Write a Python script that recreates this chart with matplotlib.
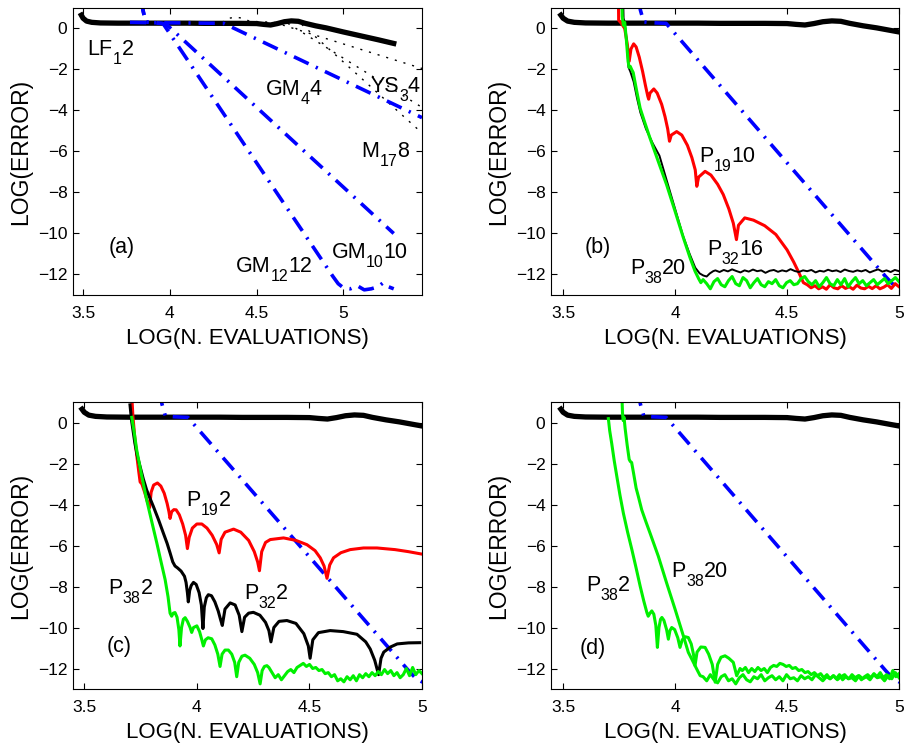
import numpy as np
import matplotlib
matplotlib.use("Agg")
import matplotlib.pyplot as plt
from matplotlib.transforms import offset_copy


plt.rcParams["font.family"] = ["Liberation Sans", "DejaVu Sans"]

X_TICKS = [3.5, 4, 4.5, 5]
X_TICK_LABELS = ["3.5", "4", "4.5", "5"]
Y_TICKS = [0, -2, -4, -6, -8, -10, -12]
Y_TICK_LABELS = ["0", "\u22122", "\u22124", "\u22126", "\u22128", "\u221210", "\u221212"]

# LF_1 2 (thick black, same in every panel)
LF_X = [3.49, 3.50, 3.52, 3.55, 3.60, 3.70, 3.80, 3.90, 4.00, 4.10, 4.20, 4.30, 4.40,
        4.50, 4.54, 4.58, 4.62, 4.66, 4.70, 4.74, 4.78, 4.84, 4.90, 5.00, 5.10, 5.20, 5.29]
LF_Y = [0.65, 0.50, 0.36, 0.30, 0.27, 0.26, 0.26, 0.26, 0.26, 0.26, 0.25, 0.25, 0.25,
        0.24, 0.20, 0.17, 0.24, 0.33, 0.37, 0.35, 0.25, 0.13, 0.03, -0.17, -0.36, -0.55, -0.73]

# GM methods (blue dash-dot)
GM12_X = [3.835, 3.845, 3.86, 3.90, 3.96, 4.94, 4.97, 5.00, 5.04, 5.08, 5.12, 5.16,
          5.20, 5.23, 5.26, 5.29]
GM12_Y = [1.6, 0.9, 0.32, 0.28, 0.25, -12.1, -12.45, -12.65, -12.7, -12.55, -12.75, -12.7,
          -12.6, -12.4, -12.6, -12.7]
GM10_X = [3.835, 3.845, 3.86, 3.92, 3.98, 5.29]
GM10_Y = [1.6, 0.9, 0.32, 0.28, 0.2, -10.0]
GM4_X = [3.77, 3.90, 4.10, 4.31, 5.453]
GM4_Y = [0.3, 0.28, 0.27, 0.25, -4.35]

# YS_3 4 and M_17 8 (black dotted)
YS_X = [4.30, 4.34, 4.38, 4.42, 4.46, 4.60, 5.453]
YS_Y = [0.30, 0.50, 0.55, 0.50, 0.35, 0.30, -1.95]
M17A_X = [4.68, 5.453]
M17A_Y = [0.25, -3.85]
M17B_X = [4.76, 5.453]
M17B_Y = [0.2, -5.1]

# panel (b)
P19_10_X = [3.747, 3.748, 3.760, 3.775, 3.787, 3.795, 3.803, 3.815, 3.826, 3.840, 3.855,
            3.868, 3.878, 3.882, 3.888, 3.905, 3.920, 3.940, 3.955, 3.967, 3.975, 3.983,
            4.007, 4.030, 4.055, 4.075, 4.090, 4.097, 4.105, 4.134, 4.160, 4.190, 4.215,
            4.240, 4.260, 4.274, 4.283, 4.311, 4.350, 4.400, 4.450, 4.500, 4.530, 4.550,
            4.573]
P19_10_Y = [1.5, 0.4, 0.25, 0.0, -0.8, -1.6, -1.0, -0.75, -0.9, -1.4, -2.1,
            -2.8, -3.3, -3.45, -3.15, -2.95, -3.15, -3.7, -4.3, -4.9, -5.5, -5.2,
            -5.03, -5.2, -5.7, -6.3, -6.9, -7.7, -7.25, -6.97, -7.15, -7.6, -8.1,
            -8.8, -9.5, -10.3, -9.6, -9.24, -9.35, -9.62, -10.05, -10.8, -11.4, -11.85,
            -12.4]
P19_10_TAIL = [-12.5, -12.65, -12.55, -12.7, -12.6, -12.72, -12.5, -12.65, -12.7, -12.55,
               -12.68, -12.6, -12.72, -12.52, -12.66, -12.7, -12.58, -12.69, -12.55, -12.7,
               -12.62, -12.5, -12.68, -12.45, -12.6]

P32_16_X = [3.768, 3.770, 3.775, 3.785, 3.792, 3.800, 3.815, 3.830, 3.845, 3.870, 3.900,
            3.930, 3.965, 4.000, 4.035, 4.065, 4.090, 4.110, 4.126, 4.141, 4.155, 4.170]
P32_16_Y = [1.5, 0.5, 0.3, -0.8, -1.9, -2.1, -2.6, -3.4, -4.1, -4.9, -5.6,
            -6.2, -7.5, -8.8, -10.1, -11.0, -11.67, -11.95, -12.05, -12.1, -11.95, -11.84]
P32_16_TAIL = [-11.8, -11.88, -11.78, -11.85, -11.75, -11.83, -11.9, -11.8, -11.86, -11.76,
               -11.84, -11.8, -11.92, -11.82, -11.78, -11.87, -11.8, -11.85, -11.74, -11.83,
               -11.88, -11.8, -11.84, -11.78, -11.9, -11.82, -11.86, -11.77, -11.84, -11.8,
               -11.88, -11.76, -11.83, -11.87, -11.8, -11.85, -11.78, -11.9, -11.82, -11.75,
               -11.86, -11.8, -11.88, -11.78, -11.84]

P38_20_X = [3.762, 3.764, 3.769, 3.775, 3.782, 3.790, 3.795, 3.800, 3.806, 3.813, 3.829,
            3.844, 3.865, 3.888, 3.925, 3.962, 4.000, 4.037, 4.067, 4.089, 4.105, 4.115]
P38_20_Y = [1.5, 0.6, 0.16, 0.3, -0.5, -1.6, -1.9, -1.85, -2.0, -2.15, -3.08,
            -3.89, -4.6, -5.35, -6.49, -7.62, -8.92, -10.21, -11.19, -11.84, -12.2, -12.4]
P38_20_TAIL = [-12.25, -12.45, -12.7, -12.35, -12.2, -12.5, -12.6, -12.3, -12.1, -12.45,
               -12.55, -12.15, -12.3, -12.65, -12.4, -12.2, -12.5, -12.6, -12.35, -12.45,
               -12.25, -12.55, -12.65, -12.4, -12.3, -12.5, -12.45, -12.2, -12.1, -12.35,
               -12.5, -12.3, -12.6, -12.4, -12.15, -12.45, -12.55, -12.25, -12.5, -12.2,
               -12.6, -12.35, -12.15, -12.45, -12.3, -12.55, -12.4, -12.25, -12.5, -12.35,
               -12.2, -12.45, -12.3, -12.15, -12.35]

# panel (c)
P19_2_X = [3.711, 3.716, 3.724, 3.733, 3.742, 3.748, 3.756, 3.768, 3.780, 3.790, 3.797,
           3.808, 3.825, 3.840, 3.855, 3.868, 3.876, 3.881, 3.888, 3.898, 3.908, 3.922,
           3.937, 3.950, 3.958, 3.966, 3.980, 4.000, 4.022, 4.045, 4.068, 4.088, 4.099,
           4.108, 4.125, 4.163, 4.195, 4.230, 4.255, 4.270, 4.278, 4.288, 4.305, 4.326,
           4.385, 4.440, 4.489, 4.525, 4.548, 4.565, 4.578, 4.590, 4.607, 4.640, 4.681,
           4.740, 4.800, 4.880, 4.940, 5.0]
P19_2_Y = [1.3, 0.3, -0.7, -1.6, -2.4, -2.9, -3.0, -3.4, -3.85, -4.15, -3.4,
           -3.05, -2.95, -3.1, -3.45, -3.95, -4.35, -4.68, -4.35, -4.25, -4.26, -4.5,
           -4.95, -5.5, -6.15, -5.6, -5.15, -4.95, -4.95, -5.15, -5.5, -5.95, -6.36,
           -5.7, -5.35, -5.2, -5.35, -5.75, -6.3, -6.8, -7.23, -6.3, -5.85, -5.71,
           -5.63, -5.75, -5.96, -6.25, -6.6, -7.0, -7.6, -6.95, -6.6, -6.35, -6.2,
           -6.12, -6.12, -6.2, -6.3, -6.42]

P32_2_X = [3.703, 3.710, 3.718, 3.725, 3.735, 3.748, 3.762, 3.777, 3.792, 3.807, 3.830,
           3.851, 3.868, 3.881, 3.893, 3.903, 3.915, 3.930, 3.945, 3.952, 3.958, 3.962,
           3.968, 3.975, 3.985, 3.997, 4.010, 4.020, 4.027, 4.033, 4.042, 4.051, 4.065,
           4.080, 4.095, 4.105, 4.113, 4.125, 4.148, 4.170, 4.188, 4.200, 4.212, 4.230,
           4.251, 4.280, 4.305, 4.320, 4.329, 4.342, 4.365, 4.400, 4.440, 4.475, 4.495,
           4.503, 4.515, 4.540, 4.592, 4.650, 4.711, 4.750, 4.770, 4.790, 4.807, 4.818,
           4.830, 4.860, 4.890, 4.940, 4.99]
P32_2_Y = [0.86, 0.1, -0.5, -1.02, -1.6, -2.16, -2.75, -3.29, -3.7, -4.1, -4.75,
           -5.39, -5.9, -6.36, -6.8, -7.0, -7.1, -7.25, -7.5, -7.8, -8.3, -8.75,
           -8.2, -7.95, -7.8, -7.9, -8.3, -8.9, -10.05, -9.0, -8.55, -8.4, -8.45,
           -8.75, -9.2, -9.6, -9.9, -9.1, -8.8, -8.9, -9.4, -10.2, -9.5, -9.3,
           -9.26, -9.4, -9.75, -10.15, -10.7, -10.0, -9.7, -9.66, -9.8, -10.3, -10.9,
           -11.5, -10.6, -10.25, -10.15, -10.2, -10.33, -10.7, -11.05, -11.6, -12.3, -11.5,
           -11.2, -10.95, -10.8, -10.75, -10.74]

P38_2C_X = [3.711, 3.722, 3.733, 3.755, 3.777, 3.800, 3.822, 3.840, 3.859, 3.872, 3.881,
            3.888, 3.895, 3.903, 3.912, 3.920, 3.925, 3.932, 3.940, 3.948, 3.958, 3.970,
            3.977, 3.985, 4.000, 4.012, 4.022, 4.029, 4.038, 4.050, 4.066, 4.080, 4.093,
            4.103, 4.112, 4.125, 4.140, 4.155, 4.168, 4.177, 4.186, 4.200, 4.214, 4.235,
            4.255, 4.270, 4.281, 4.290, 4.300, 4.311]
P38_2C_Y = [0.25, -0.5, -1.35, -2.6, -3.77, -4.85, -5.87, -6.75, -7.66, -8.5, -9.3,
            -9.45, -9.3, -9.27, -9.5, -10.1, -10.9, -10.0, -9.6, -9.52, -9.7, -10.0,
            -10.24, -10.0, -9.92, -10.2, -10.6, -10.9, -10.6, -10.5, -10.55, -10.85, -11.3,
            -11.9, -11.3, -11.1, -11.1, -11.3, -11.7, -12.4, -11.7, -11.4, -11.35, -11.5,
            -11.8, -12.2, -12.75, -12.1, -11.9, -11.86]
P38_2C_TAIL = [-11.95, -12.2, -12.45, -12.3, -12.55, -12.35, -12.15, -12.05, -12.2, -11.95,
               -11.85, -11.75, -11.9, -11.8, -12.0, -11.95, -12.1, -12.05, -12.25, -12.2,
               -12.4, -12.3, -12.6, -12.5, -12.65, -12.4, -12.55, -12.35, -12.6, -12.3,
               -12.45, -12.25, -12.4, -12.2, -12.35, -12.15, -12.3, -12.05, -12.25, -12.1,
               -12.35, -12.2, -12.45, -12.3, -12.0, -12.35, -11.95, -12.3, -12.1, -12.25]

# panel (d)
P38_2D_X = [3.702, 3.708, 3.717, 3.728, 3.740, 3.754, 3.769, 3.788, 3.807, 3.826, 3.844,
            3.860, 3.874, 3.880, 3.888, 3.896, 3.905, 3.914, 3.921, 3.928, 3.935, 3.941,
            3.950, 3.962, 3.970, 3.977, 3.985, 3.998, 4.012, 4.022, 4.032, 4.045, 4.059,
            4.072, 4.082, 4.089, 4.098, 4.115, 4.134, 4.150, 4.166, 4.179, 4.190, 4.205,
            4.223, 4.240, 4.260, 4.275, 4.290]
P38_2D_Y = [0.19, -0.4, -1.02, -1.85, -2.64, -3.55, -4.42, -5.35, -6.2, -7.1, -7.98,
            -8.7, -9.27, -9.45, -9.3, -9.19, -9.35, -9.9, -10.97, -10.0, -9.6, -9.51,
            -9.65, -10.1, -10.57, -10.15, -10.0, -10.1, -10.5, -10.97, -10.6, -10.45, -10.49,
            -10.8, -11.3, -11.86, -11.2, -10.95, -10.97, -11.3, -11.8, -12.67, -11.8, -11.45,
            -11.38, -11.5, -11.7, -12.35, -12.0]
P38_2D_TAIL = [-12.1, -11.95, -12.2, -12.0, -12.15, -11.95, -12.1, -12.0, -12.2, -11.95,
               -11.85, -11.9, -11.75, -11.8, -11.9, -11.85, -12.0, -11.95, -12.1, -12.05,
               -12.2, -12.15, -12.3, -12.2, -12.35, -12.25, -12.45, -12.3, -12.5, -12.35,
               -12.5, -12.3, -12.55, -12.4, -12.5, -12.3, -12.45, -12.35, -12.55, -12.4,
               -12.3, -12.45, -12.25, -12.4, -12.2, -12.45, -12.3, -12.5, -12.1, -12.4,
               -12.25]

P38_20D_X = [3.762, 3.765, 3.768, 3.772, 3.777, 3.786, 3.795, 3.800, 3.806, 3.815, 3.826,
             3.836, 3.851, 3.870, 3.888, 3.925, 3.962, 4.000, 4.037, 4.059, 4.075, 4.089,
             4.100, 4.112]
P38_20D_Y = [1.5, 0.5, 0.1, 0.25, -0.3, -1.1, -1.8, -1.9, -1.95, -2.5, -3.2,
             -3.61, -4.26, -4.85, -5.39, -6.52, -7.82, -9.11, -10.41, -11.21, -11.55, -11.86,
             -12.1, -12.35]
P38_20D_TAIL = [-12.4, -12.6, -12.3, -12.55, -12.7, -12.4, -12.3, -12.6, -12.5, -12.75,
                -12.45, -12.3, -12.55, -12.65, -12.4, -12.5, -12.3, -12.6, -12.45, -12.35,
                -12.55, -12.4, -12.6, -12.3, -12.5, -12.45, -12.6, -12.35, -12.5, -12.4,
                -12.55, -12.3, -12.45, -12.6, -12.4, -12.5, -12.35, -12.55, -12.4, -12.3,
                -12.5, -12.45, -12.6, -12.35, -12.5, -12.4, -12.55, -12.3, -12.45, -12.4,
                -12.6, -12.35, -12.5, -12.2, -12.45]

DASH_DOT = (4.5, 2.2, 0.6, 2.2)
GREEN = "#00f000"
TEXT_SIZE = 15.5
SUB_SIZE = 11.5
SUB_DROP = 9


def with_tail(head_x, head_y, tail, x_start, x_end):
    tail_x = np.linspace(x_start, x_end, len(tail))
    return np.concatenate([head_x, tail_x]), np.concatenate([head_y, tail])


def label(ax, x, y, main, sub="", rest=""):
    # MATLAB-style text with a big, low subscript: main + sub + rest
    fig = ax.figure
    renderer = fig.canvas.get_renderer()
    t1 = ax.text(x, y, main, fontsize=TEXT_SIZE)
    if not sub:
        return
    w1 = t1.get_window_extent(renderer).width
    tr2 = offset_copy(ax.transData, fig=fig, x=w1, y=-SUB_DROP, units="dots")
    t2 = ax.text(x, y, sub, fontsize=SUB_SIZE, transform=tr2)
    w2 = t2.get_window_extent(renderer).width
    tr3 = offset_copy(ax.transData, fig=fig, x=w1 + w2, y=0, units="dots")
    ax.text(x, y, rest, fontsize=TEXT_SIZE, transform=tr3)


def setup_axes(ax, xlim):
    ax.set_xlim(*xlim)
    ax.set_ylim(-13, 1)
    ax.set_xticks(X_TICKS)
    ax.set_xticklabels(X_TICK_LABELS)
    ax.set_yticks(Y_TICKS)
    ax.set_yticklabels(Y_TICK_LABELS)
    ax.tick_params(direction="in", top=True, right=True, length=4, width=0.8,
                   labelsize=12.5)
    ax.tick_params(axis="x", pad=8)
    ax.tick_params(axis="y", pad=4)
    ax.set_xlabel("LOG(N. EVALUATIONS)", fontsize=16, labelpad=5)
    ax.set_ylabel("LOG(ERROR)", fontsize=16.5, labelpad=4)
    for spine in ax.spines.values():
        spine.set_linewidth(0.8)


def draw_common(ax):
    ax.plot(LF_X, LF_Y, color="black", lw=3.8)
    ax.plot(GM12_X, GM12_Y, color="blue", lw=2.6, dashes=DASH_DOT)


def plot_a(ax):
    ax.plot(YS_X, YS_Y, color="black", lw=1.0, dashes=(1.5, 5))
    ax.plot(M17A_X, M17A_Y, color="black", lw=1.0, dashes=(1.5, 5))
    ax.plot(M17B_X, M17B_Y, color="black", lw=1.0, dashes=(1.5, 5))
    ax.plot(LF_X, LF_Y, color="black", lw=3.8)
    ax.plot(GM4_X, GM4_Y, color="blue", lw=2.6, dashes=DASH_DOT)
    ax.plot(GM10_X, GM10_Y, color="blue", lw=2.6, dashes=DASH_DOT)
    ax.plot(GM12_X, GM12_Y, color="blue", lw=2.6, dashes=DASH_DOT)
    setup_axes(ax, (3.442, 5.453))
    label(ax, 3.525, -1.30, "LF", "1", "2")
    label(ax, 4.554, -3.24, "GM", "4", "4")
    label(ax, 5.156, -3.08, "YS", "3", "4")
    label(ax, 5.104, -6.25, "M", "17", "8")
    label(ax, 3.646, -10.94, "(a)")
    label(ax, 4.931, -11.19, "GM", "10", "10")
    label(ax, 4.381, -11.89, "GM", "12", "12")


def plot_b(ax):
    draw_common(ax)
    x, y = with_tail(P19_10_X, P19_10_Y, P19_10_TAIL, 4.59, 5.0)
    ax.plot(x, y, color="red", lw=2.2)
    x, y = with_tail(P32_16_X, P32_16_Y, P32_16_TAIL, 4.18, 5.0)
    ax.plot(x, y, color="black", lw=1.4)
    x, y = with_tail(P38_20_X, P38_20_Y, P38_20_TAIL, 4.125, 5.0)
    ax.plot(x, y, color=GREEN, lw=2.2)
    setup_axes(ax, (3.446, 5.0))
    label(ax, 4.107, -6.49, "P", "19", "10")
    label(ax, 4.144, -11.03, "P", "32", "16")
    label(ax, 3.798, -12.0, "P", "38", "20")
    label(ax, 3.594, -10.94, "(b)")


def plot_c(ax):
    draw_common(ax)
    ax.plot(P19_2_X, P19_2_Y, color="red", lw=2.2)
    ax.plot(P32_2_X, P32_2_Y, color="black", lw=2.2)
    x, y = with_tail(P38_2C_X, P38_2C_Y, P38_2C_TAIL, 4.32, 5.0)
    ax.plot(x, y, color=GREEN, lw=2.2)
    setup_axes(ax, (3.45, 5.0))
    label(ax, 3.955, -4.08, "P", "19", "2")
    label(ax, 4.211, -8.61, "P", "32", "2")
    label(ax, 3.607, -8.37, "P", "38", "2")
    label(ax, 3.599, -11.2, "(c)")


def plot_d(ax):
    draw_common(ax)
    x, y = with_tail(P38_2D_X, P38_2D_Y, P38_2D_TAIL, 4.30, 5.0)
    ax.plot(x, y, color=GREEN, lw=2.2)
    x, y = with_tail(P38_20D_X, P38_20D_Y, P38_20D_TAIL, 4.125, 5.0)
    ax.plot(x, y, color=GREEN, lw=2.2)
    setup_axes(ax, (3.446, 5.0))
    label(ax, 3.603, -8.2, "P", "38", "2")
    label(ax, 3.985, -7.56, "P", "38", "20")
    label(ax, 3.573, -11.28, "(d)")


def main():
    fig = plt.figure(figsize=(9.06, 7.46), dpi=100)
    ax_a = fig.add_axes([0.0806, 0.6046, 0.3852, 0.3847])
    ax_b = fig.add_axes([0.6082, 0.6046, 0.3841, 0.3847])
    ax_c = fig.add_axes([0.0806, 0.0764, 0.3852, 0.3847])
    ax_d = fig.add_axes([0.6082, 0.0764, 0.3841, 0.3847])

    plot_a(ax_a)
    plot_b(ax_b)
    plot_c(ax_c)
    plot_d(ax_d)

    fig.savefig("out.png", dpi=100)
    plt.close(fig)


if __name__ == "__main__":
    main()
